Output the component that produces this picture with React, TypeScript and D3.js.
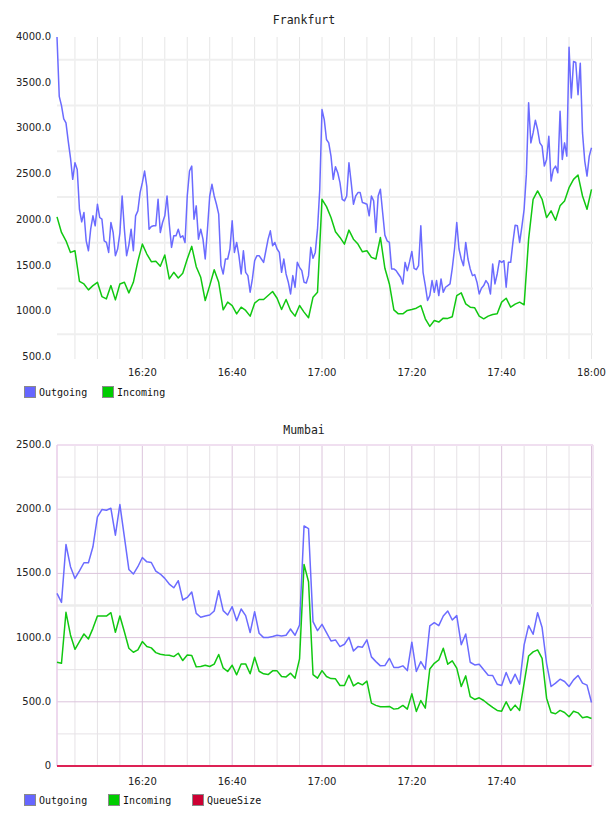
import React from 'react';
import * as d3 from 'd3';

// time range shown on both charts
const startTime = new Date(2024, 0, 1, 16, 1, 0);
const endTime = new Date(2024, 0, 1, 18, 0, 20);

// Frankfurt, outgoing sampled every 30 s, incoming every minute
const frankfurtOutgoing = [
  4000, 3351, 3249, 3104, 3060, 2861, 2679, 2443, 2625, 2552,
  2116, 1978, 2080, 1771, 1662, 1898, 2044, 1935, 2171, 2026,
  2007, 1771, 1753, 1644, 1971, 1862, 1608, 1681, 1855, 2261,
  1898, 1608, 1724, 1898, 1662, 2044, 2098, 2298, 2407, 2534,
  2363, 1898, 1927, 1935, 1935, 2225, 1862, 1971, 2044, 2261,
  1953, 1699, 1826, 1826, 1898, 1808, 1826, 1753, 2261, 2534,
  2588, 2007, 2153, 1789, 1898, 1789, 1572, 1898, 2261, 2389,
  2261, 2171, 2062, 1499, 1408, 1572, 1572, 1681, 1989, 1644,
  1753, 1608, 1408, 1662, 1426, 1390, 1209, 1354, 1553, 1608,
  1608, 1572, 1535, 1662, 1789, 1880, 1717, 1753, 1681, 1644,
  1426, 1572, 1408, 1318, 1190, 1390, 1263, 1535, 1481, 1444,
  1318, 1310, 1390, 1699, 1579, 1644, 1898, 2334, 3206, 3097,
  2879, 2842, 2697, 2443, 2581, 2516, 2407, 2225, 2207, 2261,
  2625, 2407, 2171, 2261, 2298, 2298, 2189, 2182, 2171, 2044,
  2261, 2207, 1862, 2261, 2334, 2080, 1833, 1771, 1753, 1463,
  1463, 1444, 1408, 1372, 1299, 1535, 1444, 1543, 1655, 1470,
  1455, 1499, 1935, 1426, 1281, 1118, 1172, 1336, 1208, 1336,
  1172, 1354, 1208, 1263, 1281, 1299, 1470, 1681, 1971, 1681,
  1572, 1499, 1753, 1572, 1463, 1390, 1401, 1318, 1190, 1252,
  1281, 1336, 1299, 1190, 1517, 1299, 1408, 1553, 1535, 1553,
  1263, 1535, 1535, 1753, 1942, 1935, 1753, 1927, 2116, 2500,
  3280, 2842, 2951, 3089, 2988, 2842, 2806, 2588, 2661, 2915,
  2425, 2552, 2588, 2516, 3187, 2661, 2842, 2697, 3888, 3333,
  3732, 3721, 3369, 3714, 2951, 2643, 2479, 2697, 2788,
];
const frankfurtIncoming = [
  2033, 1862, 1771, 1644, 1662, 1328, 1299, 1234, 1281, 1317,
  1161, 1136, 1281, 1125, 1299, 1317, 1201, 1317, 1546, 1735,
  1626, 1543, 1546, 1492, 1615, 1354, 1426, 1365, 1415, 1572,
  1710, 1488, 1372, 1118, 1281, 1455, 1317, 1016, 1100, 1063,
  972, 1045, 1009, 947, 1089, 1129, 1129, 1172, 1216, 1143,
  1020, 1129, 1009, 947, 1063, 991, 929, 1154, 1209, 2225,
  2145, 2025, 1869, 1808, 1735, 1888, 1789, 1735, 1651, 1662,
  1590, 1572, 1808, 1470, 1299, 1016, 972, 972, 1009, 1020,
  1034, 1063, 918, 835, 900, 882, 925, 922, 940, 1172,
  1201, 1081, 1045, 1038, 947, 918, 947, 965, 972, 1100,
  1143, 1045, 1078, 1100, 1071, 1789, 2225, 2316, 2225, 2025,
  2098, 1996, 2153, 2207, 2352, 2443, 2490, 2261, 2116, 2334,
];

// Mumbai, every minute
const mumbaiOutgoing = [
  1344, 1274, 1725, 1552, 1461, 1520, 1583, 1583, 1707, 1940,
  1997, 1992, 2007, 1798, 2036, 1785, 1531, 1495, 1552, 1624,
  1590, 1585, 1518, 1495, 1461, 1417, 1388, 1443, 1293, 1313,
  1355, 1189, 1158, 1168, 1176, 1207, 1365, 1210, 1176, 1241,
  1132, 1223, 1171, 1039, 1202, 1034, 1000, 1000, 1008, 1018,
  1013, 1018, 1067, 1018, 1098, 1870, 1849, 1124, 1054, 1103,
  1039, 974, 982, 930, 948, 1002, 896, 930, 925, 982,
  850, 813, 780, 782, 839, 767, 767, 780, 743, 964,
  736, 813, 754, 1091, 1116, 1093, 1168, 1207, 1137, 1171,
  945, 1028, 808, 787, 793, 749, 707, 705, 637, 627,
  728, 642, 715, 637, 943, 1093, 1026, 1194, 1078, 800,
  619, 645, 676, 658, 619, 671, 705, 645, 630, 495,
];
const mumbaiIncoming = [
  808, 800, 1197, 1021, 909, 969, 1028, 990, 1072, 1168,
  1168, 1168, 1194, 1041, 1168, 1046, 917, 886, 904, 969,
  930, 920, 883, 870, 865, 863, 852, 878, 821, 865,
  860, 772, 775, 785, 775, 793, 868, 764, 736, 785,
  710, 795, 795, 718, 847, 738, 718, 712, 741, 741,
  697, 694, 723, 684, 834, 1570, 1435, 712, 684, 743,
  697, 681, 679, 627, 627, 707, 624, 648, 632, 661,
  490, 472, 461, 461, 464, 443, 448, 472, 443, 562,
  425, 510, 451, 756, 800, 826, 917, 793, 819, 762,
  619, 702, 541, 518, 531, 510, 482, 456, 433, 427,
  500, 433, 474, 433, 645, 857, 889, 904, 839, 528,
  417, 407, 433, 417, 383, 427, 414, 376, 383, 370,
];
const mumbaiQueueSize = [
  0, 0, 0, 0, 0, 0, 0, 0, 0, 0, 0, 0, 0, 0, 0, 0, 0, 0, 0, 0,
  0, 0, 0, 0, 0, 0, 0, 0, 0, 0, 0, 0, 0, 0, 0, 0, 0, 0, 0, 0,
  0, 0, 0, 0, 0, 0, 0, 0, 0, 0, 0, 0, 0, 0, 0, 0, 0, 0, 0, 0,
  0, 0, 0, 0, 0, 0, 0, 0, 0, 0, 0, 0, 0, 0, 0, 0, 0, 0, 0, 0,
  0, 0, 0, 0, 0, 0, 0, 0, 0, 0, 0, 0, 0, 0, 0, 0, 0, 0, 0, 0,
  0, 0, 0, 0, 0, 0, 0, 0, 0, 0, 0, 0, 0, 0, 0, 0, 0, 0, 0, 0,
];

const frankfurtYTicks = [500, 1000, 1500, 2000, 2500, 3000, 3500, 4000];
const mumbaiYTicks = [0, 500, 1000, 1500, 2000, 2500];
const frankfurtXLabels = ['16:20', '16:40', '17:00', '17:20', '17:40', '18:00'];
const mumbaiXLabels = ['16:20', '16:40', '17:00', '17:20', '17:40'];

const OUT = '#6b6bff';
const INC = '#11c811';
const QUEUE = '#dd2255';

const numFont = '"DejaVu Sans", Verdana, sans-serif';
const monoFont = '"DejaVu Sans Mono", monospace';

const toTime = (i, stepSec) => new Date(startTime.getTime() + i * stepSec * 1000);
const parseHM = (s) => {
  const [h, m] = s.split(':').map(Number);
  return new Date(2024, 0, 1, h, m, 0);
};

function Chart({ title, titleY, top, bottom, yDomain, yTicks, series, xLabels, legendY, legend, framed }) {
  const left = 57, right = 593;
  const x = d3.scaleTime().domain([startTime, endTime]).range([left, right]);
  const y = d3.scaleLinear().domain(yDomain).range([bottom, top]);
  const minutes5 = x.ticks(d3.timeMinute.every(5)).filter((t) => x(t) > left + 2 && x(t) < right - 1);
  const halfSteps = yTicks.slice(0, -1).map((v, i) => (v + yTicks[i + 1]) / 2);
  const fmt = (v) => (v === 0 ? '0' : v.toFixed(1));

  return (
    <g>
      <text x={304} y={titleY} textAnchor="middle" dominantBaseline="middle"
        fontFamily={monoFont} fontSize={11.5} fill="#222">{title}</text>

      {/* vertical grid */}
      {minutes5.map((t, i) => {
        const major = framed && t.getMinutes() % 20 === 0;
        return (
          <line key={'v' + i} x1={x(t)} x2={x(t)} y1={top} y2={bottom + (framed ? 0 : 2)}
            stroke={major ? '#dcc4dc' : framed ? '#e6e2e6' : '#e6e6e6'} strokeWidth={1} />
        );
      })}

      {/* horizontal grid */}
      {halfSteps.map((v, i) => (
        <line key={'h' + i} x1={left} x2={right} y1={y(v)} y2={y(v)}
          stroke={framed ? (v === 1250 ? '#ececec' : '#e6e2e6') : '#efefef'}
          strokeWidth={framed ? (v === 1250 ? 2.5 : 1) : 2} />
      ))}
      {framed && yTicks.slice(1, -1).map((v, i) => (
        <line key={'hm' + i} x1={left} x2={right} y1={y(v)} y2={y(v)} stroke="#dcc4dc" strokeWidth={1} />
      ))}
      {framed && (
        <g>
          <line x1={left} x2={right} y1={top} y2={top} stroke="#f0dff0" strokeWidth={2} />
          <line x1={left} x2={left} y1={top} y2={bottom} stroke="#e8cce8" strokeWidth={1.5} />
          <line x1={right} x2={right} y1={top} y2={bottom} stroke="#eedcee" strokeWidth={1.5} />
        </g>
      )}

      {/* series */}
      {series.map((s) => {
        const line = d3.line()
          .x((d, i) => x(toTime(i, s.step)))
          .y((d) => y(d));
        return (
          <path key={s.name} d={line(s.values)} fill="none" stroke={s.color}
            strokeWidth={s.width || 1.5} strokeLinejoin="round" />
        );
      })}

      {/* y labels */}
      {yTicks.map((v) => (
        <text key={'yl' + v} x={51} y={y(v)} textAnchor="end" dominantBaseline="middle"
          fontFamily={numFont} fontSize={10} fill="#222">{fmt(v)}</text>
      ))}

      {/* x labels */}
      {xLabels.map((lbl) => (
        <text key={'xl' + lbl} x={x(parseHM(lbl))} y={bottom + 16} textAnchor="middle"
          dominantBaseline="middle" fontFamily={numFont} fontSize={10} fill="#222">{lbl}</text>
      ))}

      {/* legend */}
      {legend.map((item, i) => (
        <g key={'lg' + item.name} transform={`translate(${item.x},${legendY})`}>
          <rect x={0.5} y={-5.5} width={11} height={11} fill={item.color} stroke="#8a8a8a" strokeWidth={1} />
          <text x={15} y={0.5} dominantBaseline="middle" fontFamily={monoFont} fontSize={10} fill="#111">
            {item.name}
          </text>
        </g>
      ))}
    </g>
  );
}

export default function App() {
  return (
    <div style={{ position: 'absolute', left: 0, top: 0, width: 608, height: 816, background: '#fff' }}>
      <svg width={608} height={816} viewBox="0 0 608 816">
        <Chart
          title="Frankfurt" titleY={20} top={37} bottom={357}
          yDomain={[500, 4000]} yTicks={frankfurtYTicks} xLabels={frankfurtXLabels}
          series={[
            { name: 'Outgoing', values: frankfurtOutgoing, step: 30, color: OUT },
            { name: 'Incoming', values: frankfurtIncoming, step: 60, color: INC },
          ]}
          legendY={392}
          legend={[
            { name: 'Outgoing', color: '#6666ff', x: 24 },
            { name: 'Incoming', color: '#00cc00', x: 102 },
          ]}
          framed={false}
        />
        <Chart
          title="Mumbai" titleY={430} top={445} bottom={766}
          yDomain={[0, 2500]} yTicks={mumbaiYTicks} xLabels={mumbaiXLabels}
          series={[
            { name: 'Outgoing', values: mumbaiOutgoing, step: 60, color: OUT },
            { name: 'Incoming', values: mumbaiIncoming, step: 60, color: INC },
            { name: 'QueueSize', values: mumbaiQueueSize, step: 60, color: QUEUE, width: 2 },
          ]}
          legendY={800}
          legend={[
            { name: 'Outgoing', color: '#6666ff', x: 24 },
            { name: 'Incoming', color: '#00cc00', x: 108 },
            { name: 'QueueSize', color: '#cc0033', x: 192 },
          ]}
          framed={true}
        />
      </svg>
    </div>
  );
}
